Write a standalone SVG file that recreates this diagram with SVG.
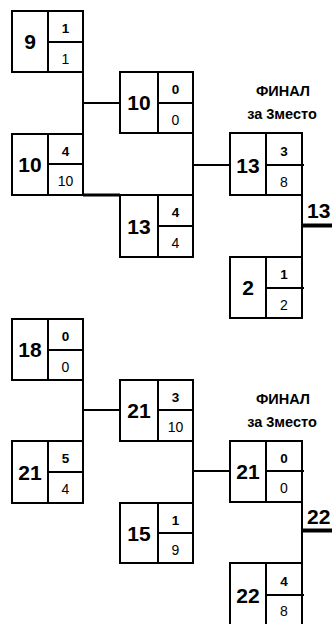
<svg xmlns="http://www.w3.org/2000/svg" width="332" height="624" viewBox="0 0 332 624">
<style>
.box{fill:#fff;stroke:#000;stroke-width:2}
.ln{stroke:#000;stroke-width:2;fill:none}
.thick{stroke:#000;stroke-width:3;fill:none}
.lbl{stroke:#000;stroke-width:4;fill:none}
text{font-family:"Liberation Sans",Arial,sans-serif;fill:#000;text-anchor:middle}
.big{font-size:21px;font-weight:bold}
.sb{font-size:13.5px;font-weight:bold}
.sr{font-size:14px}
.title{font-size:14.5px;font-weight:bold}
.win{font-size:21px;font-weight:bold;text-anchor:start}
</style>
<g id="connectors">
<path class="ln" d="M83 72V134M83 103H120M193 133V195M193 165H230M302 195V257"/>
<path class="thick" d="M83 195H120"/>
<path class="lbl" d="M302 225.5H332"/>
<path class="ln" d="M83 380V441M83 410H120M193 441V503M193 471H230M302 502V563"/>
<path class="lbl" d="M302 530.5H332"/>
</g>
<g id="b1-r1-1">
<rect class="box" x="12" y="11" width="71" height="61"/>
<path class="ln" d="M48 11V72M48 42H83"/>
<text class="big" x="30" y="49">9</text>
<text class="sb" x="65.5" y="33">1</text>
<text class="sr" x="65.5" y="63.5">1</text>
</g>
<g id="b1-r1-2">
<rect class="box" x="12" y="134" width="71" height="61"/>
<path class="ln" d="M48 134V195M48 164H83"/>
<text class="big" x="30" y="172">10</text>
<text class="sb" x="65.5" y="156">4</text>
<text class="sr" x="65.5" y="186">10</text>
</g>
<g id="b1-r2-1">
<rect class="box" x="120" y="72" width="73" height="61"/>
<path class="ln" d="M158 72V133M158 103H193"/>
<text class="big" x="139" y="110">10</text>
<text class="sb" x="175.5" y="94">0</text>
<text class="sr" x="175.5" y="124.5">0</text>
</g>
<g id="b1-r2-2">
<rect class="box" x="120" y="195" width="73" height="62"/>
<path class="ln" d="M158 195V257M158 226H193"/>
<text class="big" x="139" y="233.5">13</text>
<text class="sb" x="175.5" y="217">4</text>
<text class="sr" x="175.5" y="248">4</text>
</g>
<g id="b1-title">
<text class="title" x="283" y="96">ФИНАЛ</text>
<text class="title" x="282" y="119">за 3место</text>
</g>
<g id="b1-final">
<rect class="box" x="230" y="133" width="72" height="62"/>
<path class="ln" d="M266 133V195M266 165H304"/>
<text class="big" x="248" y="172.5">13</text>
<text class="sb" x="284" y="155.5">3</text>
<text class="sr" x="284" y="186.5">8</text>
</g>
<g id="b1-third">
<rect class="box" x="230" y="257" width="72" height="61"/>
<path class="ln" d="M266 257V318M266 288H304"/>
<text class="big" x="248" y="295">2</text>
<text class="sb" x="284" y="279">1</text>
<text class="sr" x="284" y="309.5">2</text>
</g>
<g id="b1-winner">
<text class="win" x="307" y="218">13</text>
</g>
<g id="b2-r1-1">
<rect class="box" x="12" y="319" width="71" height="61"/>
<path class="ln" d="M48 319V380M48 350H83"/>
<text class="big" x="30" y="357">18</text>
<text class="sb" x="65.5" y="341">0</text>
<text class="sr" x="65.5" y="371.5">0</text>
</g>
<g id="b2-r1-2">
<rect class="box" x="12" y="441" width="71" height="62"/>
<path class="ln" d="M48 441V503M48 472H83"/>
<text class="big" x="30" y="480">21</text>
<text class="sb" x="65.5" y="463">5</text>
<text class="sr" x="65.5" y="494">4</text>
</g>
<g id="b2-r2-1">
<rect class="box" x="120" y="380" width="73" height="61"/>
<path class="ln" d="M158 380V441M158 410H193"/>
<text class="big" x="139" y="418">21</text>
<text class="sb" x="175.5" y="401.5">3</text>
<text class="sr" x="175.5" y="432">10</text>
</g>
<g id="b2-r2-2">
<rect class="box" x="120" y="503" width="73" height="60"/>
<path class="ln" d="M158 503V563M158 533H193"/>
<text class="big" x="139" y="540.5">15</text>
<text class="sb" x="175.5" y="524.5">1</text>
<text class="sr" x="175.5" y="554.5">9</text>
</g>
<g id="b2-title">
<text class="title" x="283" y="404">ФИНАЛ</text>
<text class="title" x="282" y="427">за 3место</text>
</g>
<g id="b2-final">
<rect class="box" x="230" y="441" width="72" height="61"/>
<path class="ln" d="M266 441V502M266 471H304"/>
<text class="big" x="248" y="479">21</text>
<text class="sb" x="284" y="462.5">0</text>
<text class="sr" x="284" y="493">0</text>
</g>
<g id="b2-third">
<rect class="box" x="230" y="563" width="72" height="62"/>
<path class="ln" d="M266 563V625M266 595H304"/>
<text class="big" x="248" y="602.5">22</text>
<text class="sb" x="284" y="585.5">4</text>
<text class="sr" x="284" y="616">8</text>
</g>
<g id="b2-winner">
<text class="win" x="307" y="524">22</text>
</g>
</svg>
